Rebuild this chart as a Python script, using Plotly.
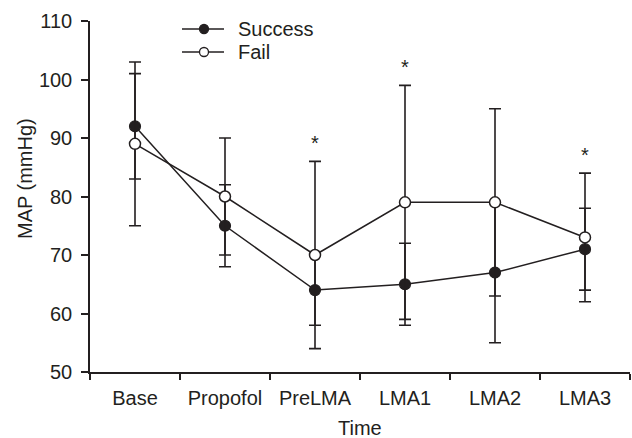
import plotly.graph_objects as go

categories = ["Base", "Propofol", "PreLMA", "LMA1", "LMA2", "LMA3"]
success_mean = [92, 75, 64, 65, 67, 71]
success_sd = [9, 7, 6, 7, 12, 7]
fail_mean = [89, 80, 70, 79, 79, 73]
fail_sd = [14, 10, 16, 20, 16, 11]
significant = [False, False, True, True, False, True]
y_ticks = [50, 60, 70, 80, 90, 100, 110]
series_names = ["Success", "Fail"]
series_fill = ["#231f20", "white"]

INK = "#231f20"
FONT = "Liberation Sans, Arial, Helvetica, sans-serif"
xpos = list(range(len(categories)))

# plot area geometry in pixels (for legend placement)
W, H = 632, 438
ML, MR, MT, MB = 90, 2, 21, 66
PW, PH = W - ML - MR, H - MT - MB


def px_x(x):
    return (x - ML) / PW


def px_y(y):
    return (H - MB - y) / PH


fig = go.Figure()
fig.add_trace(go.Scatter(
    x=xpos, y=success_mean, name=series_names[0], mode="lines+markers",
    line=dict(color=INK, width=1.5),
    marker=dict(symbol="circle", size=11, color=series_fill[0], line=dict(color=INK, width=1.2)),
    error_y=dict(type="data", array=success_sd, symmetric=True, color=INK, thickness=1.6, width=6),
    showlegend=False,
))
fig.add_trace(go.Scatter(
    x=xpos, y=fail_mean, name=series_names[1], mode="lines+markers",
    line=dict(color=INK, width=1.5),
    marker=dict(symbol="circle", size=11, color=series_fill[1], line=dict(color=INK, width=1.5)),
    error_y=dict(type="data", array=fail_sd, symmetric=True, color=INK, thickness=1.6, width=6),
    showlegend=False,
))

annotations = []
for i, sig in enumerate(significant):
    if sig:
        top = max(fail_mean[i] + fail_sd[i], success_mean[i] + success_sd[i])
        annotations.append(dict(x=xpos[i], y=top, xref="x", yref="y", text="*",
                                showarrow=False, yanchor="bottom", yshift=5,
                                font=dict(family=FONT, size=20, color=INK)))
annotations.append(dict(x=0.5, y=px_y(428), xref="paper", yref="paper", text="Time",
                        showarrow=False, xanchor="center", yanchor="middle",
                        font=dict(family=FONT, size=20, color=INK)))
annotations.append(dict(x=px_x(25), y=px_y(179), xref="paper", yref="paper", text="MAP (mmHg)",
                        showarrow=False, xanchor="center", yanchor="middle", textangle=-90,
                        font=dict(family=FONT, size=20, color=INK)))

# manual legend
shapes = []
legend_rows = [29, 52]
for name, fill, ry in zip(series_names, series_fill, legend_rows):
    shapes.append(dict(type="line", xref="paper", yref="paper",
                       x0=px_x(182), x1=px_x(224), y0=px_y(ry), y1=px_y(ry),
                       line=dict(color=INK, width=1.5)))
    shapes.append(dict(type="circle", xref="paper", yref="paper",
                       xsizemode="pixel", ysizemode="pixel",
                       xanchor=px_x(204), yanchor=px_y(ry),
                       x0=-4.5, x1=4.5, y0=-4.5, y1=4.5,
                       fillcolor=fill, line=dict(color=INK, width=1.3)))
    annotations.append(dict(x=px_x(236), y=px_y(ry), xref="paper", yref="paper", text=name,
                            showarrow=False, xanchor="left", yanchor="middle",
                            font=dict(family=FONT, size=20, color=INK)))

fig.update_layout(
    width=W, height=H,
    margin=dict(l=ML, r=MR, t=MT, b=MB),
    paper_bgcolor="white", plot_bgcolor="white",
    font=dict(family=FONT, size=20, color=INK),
    showlegend=False,
    annotations=annotations,
    shapes=shapes,
    xaxis=dict(
        range=[-0.5, 5.5], tickmode="array", tickvals=xpos, ticktext=categories,
        ticks="", showgrid=False, zeroline=False, showline=True, linecolor=INK, linewidth=1.5,
        ticklabelstandoff=7,
        minor=dict(tickmode="linear", tick0=0.5, dtick=1, ticks="outside", ticklen=6,
                   tickwidth=1.5, tickcolor=INK, showgrid=False),
        tickfont=dict(family=FONT, size=20, color=INK),
    ),
    yaxis=dict(
        range=[50, 110], tickmode="array", tickvals=y_ticks,
        ticks="outside", ticklen=7, tickwidth=1.5, tickcolor=INK,
        showgrid=False, zeroline=False, showline=True, linecolor=INK, linewidth=1.5,
        ticklabelstandoff=5,
        tickfont=dict(family=FONT, size=20, color=INK),
    ),
)

fig.write_html("out.html")
